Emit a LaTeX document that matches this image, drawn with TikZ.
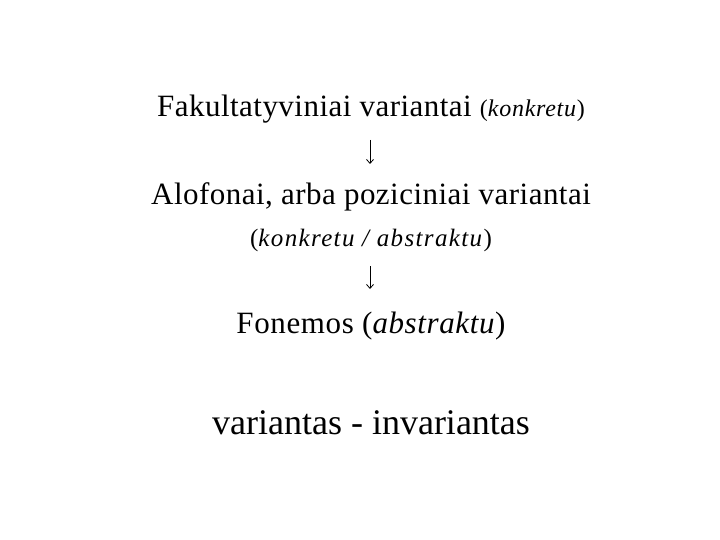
\documentclass[tikz,border=0pt]{standalone}
\usepackage{fontspec}
\setmainfont{Liberation Serif}
\usetikzlibrary{arrows.meta}
\usetikzlibrary{positioning}
\tikzset{
  line/.style={anchor=base, inner sep=1pt, font=\fontsize{31}{36}\selectfont\addfontfeatures{LetterSpace=1.5}},
  note/.style={anchor=base, inner sep=1pt, font=\fontsize{25}{30}\selectfont\addfontfeatures{LetterSpace=5.5}},
  big/.style={anchor=base, inner sep=1pt, font=\fontsize{36}{42}\selectfont},
  arrow/.style={draw, -{Straight Barb[length=4pt, width=7pt]}, line width=0.8pt}
  }

\begin{document}
\begin{tikzpicture}[x=1pt, y=1pt]
	% Frame
	\useasboundingbox (0,0) rectangle (720,-540);

	% Nodes
	\node[line] (fak) at (371,-117) {Fakultatyviniai variantai {\fontsize{24}{28}\selectfont\addfontfeatures{LetterSpace=3}(\textit{konkretu})}};
	\node[line] (alo) at (371,-205) {Alofonai, arba poziciniai variantai};
	\node[note] (kon) at (371,-247) {(\textit{konkretu / abstraktu})};
	\node[line, font=\fontsize{31}{36}\selectfont\addfontfeatures{LetterSpace=2}] (fon) at (371,-333) {Fonemos (\textit{abstraktu})};
	\node[big] (var) at (371,-434) {variantas - invariantas};

	% Arrows
	\coordinate (a1) at (370,-140);
	\coordinate (b1) at (370,-164);
	\coordinate (a2) at (370,-266);
	\coordinate (b2) at (370,-289);
	\draw [arrow] (a1) -- (b1);
	\draw [arrow] (a2) -- (b2);

\end{tikzpicture}
\end{document}
